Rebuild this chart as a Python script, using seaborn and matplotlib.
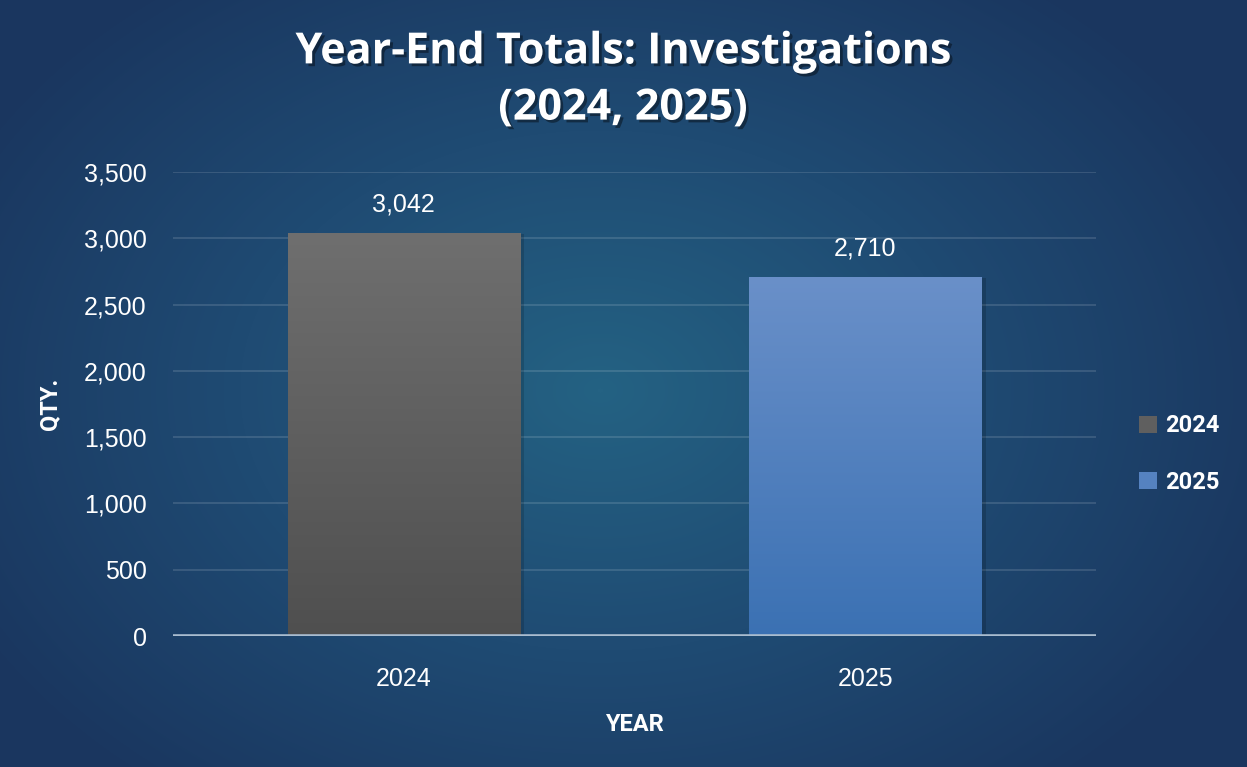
import numpy as np
import pandas as pd
import matplotlib
matplotlib.use("Agg")
import matplotlib.pyplot as plt
import matplotlib.patheffects as pe
from matplotlib.colors import LinearSegmentedColormap
from matplotlib.patches import Patch
import seaborn as sns

years = ["2024", "2025"]
totals = [3042, 2710]
bar_top = ["#6f6f6f", "#6a90c9"]
bar_bottom = ["#4f4f4f", "#3b71b3"]
legend_colors = ["#5f5f5f", "#5582c0"]

df = pd.DataFrame({"year": years, "total": totals})

sns.set_theme(style="white")
plt.rcParams["font.family"] = ["Liberation Sans", "DejaVu Sans"]

W, H = 1247, 767
fig = plt.figure(figsize=(W / 100, H / 100), dpi=100)

# radial background gradient
bg = fig.add_axes([0, 0, 1, 1], zorder=-10)
yy, xx = np.mgrid[0:H, 0:W]
r = np.sqrt(((xx - 600) / 720.0) ** 2 + ((yy - 390) / 520.0) ** 2)
r = np.clip(r, 0, 1)
bg_cmap = LinearSegmentedColormap.from_list("bg", ["#246283", "#1f4b73", "#1a365f"])
bg.imshow(r, cmap=bg_cmap, aspect="auto", extent=[0, 1, 0, 1], vmin=0, vmax=1)
bg.set_axis_off()

ax = fig.add_axes([173 / W, 131 / H, 923 / W, 464 / H])
ax.set_facecolor("none")
sns.barplot(data=df, x="year", y="total", hue="year", palette=legend_colors,
            width=0.503, legend=False, ax=ax, zorder=3, linewidth=0)

# gradient fill + soft shadow on the bars
for i, bar in enumerate(ax.patches):
    x0, y0, w, h = bar.get_x(), bar.get_y(), bar.get_width(), bar.get_height()
    sh = plt.Rectangle((x0 + 0.01, y0 - 12), w, h, color="black", alpha=0.15, zorder=2, lw=0)
    ax.add_patch(sh)
    cm = LinearSegmentedColormap.from_list(f"b{i}", [bar_bottom[i], bar_top[i]])
    grad = np.linspace(0, 1, 256).reshape(-1, 1)
    im = ax.imshow(grad, cmap=cm, aspect="auto", origin="lower",
                   extent=[x0, x0 + w, y0, y0 + h], zorder=3.5)
    im.set_clip_path(bar)
    ax.text(x0 + w / 2, h + 212, f"{totals[i]:,}", ha="center", va="center",
            color="white", fontsize=18)

ax.set_xlim(-0.5, 1.5)
ax.set_ylim(0, 3500)
ax.set_yticks(range(0, 3501, 500))
ax.yaxis.set_major_formatter(matplotlib.ticker.FuncFormatter(lambda v, p: f"{int(v):,}"))
ax.grid(axis="y", color="white", alpha=0.15, linewidth=1.2, zorder=0)
ax.axhline(0, color="#a9bccf", linewidth=2.6, zorder=5)
for s in ax.spines.values():
    s.set_visible(False)
ax.tick_params(axis="both", colors="white", labelsize=18, length=0)
ax.tick_params(axis="x", pad=22)
ax.tick_params(axis="y", pad=19)

ax.set_xlabel("YEAR", color="white", fontsize=17, fontweight="bold",
              family=["Roboto", "DejaVu Sans"], labelpad=16)
ax.set_ylabel("QTY.", color="white", fontsize=17, fontweight="bold",
              family=["Roboto", "DejaVu Sans"], labelpad=16)

fig.text(623 / W, 1 - 80 / H, "Year-End Totals: Investigations\n(2024, 2025)",
         ha="center", va="center", color="white", fontsize=31, fontweight="bold",
         family=["Open Sans", "DejaVu Sans"], linespacing=1.4,
         path_effects=[pe.withSimplePatchShadow(offset=(2, -2), shadow_rgbFace="black", alpha=0.4)])

handles = [Patch(facecolor=c, edgecolor="none") for c in legend_colors]
leg = fig.legend(handles, years, loc="center left", bbox_to_anchor=(1118 / W, 1 - 454 / H),
                 frameon=False, handlelength=0.75, handleheight=0.75, handletextpad=0.35,
                 labelspacing=1.4, prop={"family": "Roboto", "weight": "bold", "size": 17})
for t in leg.get_texts():
    t.set_color("white")

fig.savefig("out.png", dpi=100)
